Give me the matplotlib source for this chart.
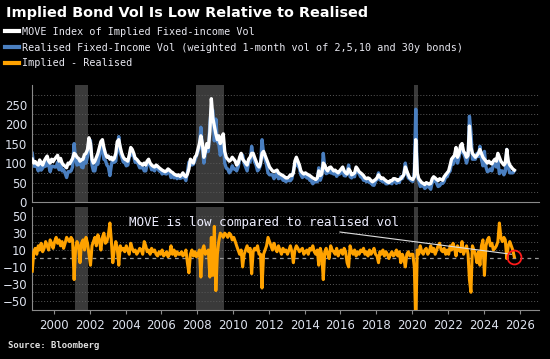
import matplotlib

matplotlib.use("Agg")
import matplotlib.pyplot as plt
import numpy as np
import pandas as pd
from matplotlib.lines import Line2D

# monthly readings, Oct 1998 .. Sep 2025
move = [
    110, 100, 104,                                          # 1998 Q4
    98, 95, 108, 100, 95, 105, 112, 118, 105, 100, 110, 104,  # 1999
    110, 115, 120, 105, 112, 100, 95, 92, 88, 100, 98, 105,   # 2000
    112, 125, 122, 115, 112, 105, 108, 110, 122, 125, 135, 165,  # 2001
    150, 110, 100, 105, 115, 125, 140, 155, 160, 140, 125, 115,  # 2002
    118, 110, 115, 108, 112, 125, 155, 160, 140, 125, 115, 110,  # 2003
    108, 105, 120, 140, 135, 125, 112, 110, 105, 100, 98, 95,    # 2004
    100, 95, 105, 110, 100, 95, 92, 90, 95, 92, 88, 85,          # 2005
    82, 80, 78, 80, 85, 82, 78, 76, 72, 70, 68, 70,              # 2006
    66, 70, 75, 68, 65, 72, 85, 110, 105, 100, 115, 120,         # 2007
    135, 150, 170, 150, 115, 130, 150, 140, 180, 265, 215, 195,  # 2008
    175, 160, 170, 150, 165, 175, 130, 115, 110, 105, 108, 115,  # 2009
    110, 105, 95, 100, 115, 125, 110, 105, 100, 95, 110, 115,    # 2010
    125, 125, 115, 105, 95, 90, 100, 125, 130, 120, 110, 100,    # 2011
    90, 85, 80, 78, 80, 82, 75, 72, 70, 68, 65, 62,              # 2012
    62, 65, 70, 68, 75, 105, 115, 105, 95, 80, 75, 72,           # 2013
    75, 72, 70, 68, 65, 62, 60, 58, 62, 80, 68, 72,              # 2014
    100, 95, 85, 80, 88, 90, 85, 80, 82, 78, 75, 80,             # 2015
    85, 90, 80, 75, 72, 85, 80, 70, 72, 75, 90, 85,              # 2016
    78, 75, 72, 68, 62, 60, 62, 60, 55, 52, 55, 58,              # 2017
    62, 70, 65, 60, 62, 58, 55, 52, 50, 55, 55, 60,              # 2018
    60, 58, 55, 58, 60, 65, 70, 90, 80, 70, 62, 60,              # 2019
    58, 65, 160, 75, 60, 55, 50, 48, 45, 50, 48, 46,             # 2020
    48, 60, 65, 62, 58, 55, 60, 58, 56, 65, 70, 75,              # 2021
    80, 95, 110, 115, 120, 140, 115, 125, 145, 150, 130, 125,    # 2022
    115, 120, 195, 140, 125, 120, 115, 120, 125, 135, 125, 115,  # 2023
    110, 105, 100, 105, 100, 98, 105, 110, 105, 125, 115, 105,   # 2024
    100, 95, 100, 135, 105, 95, 90, 85, 82,                      # 2025
]

implied_minus_realised = [
    -15, 8, 12,
    5, 15, 10, 18, 8, 12, 20, 15, 10, 22, 18, 12,
    20, 25, 18, 22, 15, 20, 12, 18, 25, 22, 20, 25,
    22, -25, 10, 20, 15, -5, 18, 22, 10, 25, 18, 5,
    -8, 15, 20, 25, 15, 28, 22, 10, 25, 30, 18, 20,
    28, 42, 22, -5, 10, 20, 12, -8, 15, 10, 12, 8,
    15, 10, 5, 18, 12, 8, 10, 5, 8, 12, 10, 5,
    20, 15, 8, 10, 5, 12, 8, 10, 5, 3, 8, 5,
    10, 3, 5, 8, 2, 5, 15, 5, 10, 3, 8, 5,
    5, 8, 3, 5, 10, -5, -17, 5, 10, 3, 8, 2,
    5, 10, -22, 10, 15, 5, 8, 10, -22, 25, -20, 38,
    -38, 5, 20, 30, 28, 25, 30, 28, 25, 30, 28, 22,
    25, 20, 15, 10, 5, 10, -10, 5, 10, 15, 8, 12,
    -18, 8, 12, 10, 15, 5, 5, -35, 5, 10, 15, 25,
    20, 15, 10, 18, 12, 8, 15, 10, 5, 12, 8, 10,
    5, 10, 15, 8, -5, 10, 15, 12, 8, 10, 12, 5,
    8, 10, 5, 12, 10, 15, 8, 5, 10, -8, 12, 5,
    -25, 8, 12, 5, 0, 15, 10, 8, 5, 12, 3, 8,
    10, 5, 12, 8, -5, -10, 15, 8, 5, 10, 3, 8,
    5, 10, 8, 12, 5, 8, 3, 10, 5, 8, 12, 5,
    3, -5, 8, 5, 10, 3, 8, 5, 0, 5, 8, 3,
    5, 10, 3, 8, -5, 5, 0, -10, 5, 8, 3, 5,
    5, -10, -78, 10, 5, 15, 8, 5, 10, 12, 5, 8,
    15, 8, 12, 5, 10, 15, 18, 10, 8, 12, 5, 10,
    5, 15, 10, 18, 12, 3, 15, 10, 8, 20, 5, 10,
    15, 5, -25, -40, 15, 10, 5, -5, 8, -8, 15, 22,
    -20, 15, 22, 25, 15, 18, 10, 12, 15, 20, 42, 25,
    20, 25, 22, 0, 15, 20, 15, 10, 2,
]

recessions = [("2001-03-01", "2001-11-30"), ("2007-12-01", "2009-06-30"), ("2020-02-01", "2020-04-30")]
top_ticks = [0, 50, 100, 150, 200, 250]
bottom_ticks = [-50, -30, -10, 10, 30, 50]
year_ticks = list(range(2000, 2027, 2))

dates = pd.date_range("1998-10-01", periods=len(move), freq="MS") + pd.Timedelta(days=14)
move = np.array(move, dtype=float)
spread = np.array(implied_minus_realised, dtype=float)
realised = move - spread

WHITE = "#ffffff"
BLUE = "#4a7fc0"
ORANGE = "#ffa200"
SHADE = "#3a3a3a"
GRID = "#5a5a5a"
TICK = "#dde2ee"
MONO = "DejaVu Sans Mono"

plt.rcParams["font.family"] = ["DejaVu Sans"]
fig = plt.figure(figsize=(5.5, 3.59), dpi=100, facecolor="black")
ax1 = fig.add_axes([0.058, 0.437, 0.922, 0.326], facecolor="black")
ax2 = fig.add_axes([0.058, 0.1365, 0.922, 0.287], facecolor="black", sharex=ax1)

for ax in (ax1, ax2):
    for start, end in recessions:
        ax.axvspan(pd.Timestamp(start), pd.Timestamp(end), color=SHADE, lw=0, zorder=0)
    for side in ("top", "right"):
        ax.spines[side].set_visible(False)
    for side in ("left", "bottom"):
        ax.spines[side].set_color("#8a8a8a")
        ax.spines[side].set_linewidth(0.8)
    ax.tick_params(colors="#8a8a8a", labelcolor=TICK, labelsize=8.5, length=3, width=0.8)

ax1.plot(dates, realised, color=BLUE, lw=2.4, zorder=2)
ax1.plot(dates, move, color=WHITE, lw=2.4, zorder=3)
ax1.set_ylim(0, 300)
ax1.set_yticks(top_ticks)
ax1.set_yticks(np.arange(25, 300, 25), minor=True)
ax1.tick_params(axis="y", which="both", length=0)
ax1.tick_params(axis="x", which="both", length=0, labelbottom=False)
ax1.grid(axis="y", which="both", color=GRID, ls=(0, (1, 2)), lw=0.7)

ax2.plot(dates, spread, color=ORANGE, lw=2.2, zorder=3)
ax2.axhline(0, color="#9a9a9a", ls=(0, (3, 3)), lw=0.9, zorder=2)
ax2.set_ylim(-61, 61)
ax2.set_yticks(bottom_ticks)
ax2.set_yticks([-40, -20, 20, 40], minor=True)
ax2.tick_params(axis="y", which="both", length=0)
ax2.grid(axis="y", which="both", color=GRID, ls=(0, (1, 2)), lw=0.7)
ax2.set_xticks([pd.Timestamp(f"{y}-01-01") for y in year_ticks])
ax2.set_xticklabels([str(y) for y in year_ticks])
ax2.set_xlim(pd.Timestamp("1998-10-08"), pd.Timestamp("2027-02-01"))

ax2.plot([pd.Timestamp("2025-09-10")], [2], marker="o", ms=10, mfc="none", mec="#ff1a1a", mew=1.3, zorder=4)
ax2.annotate("MOVE is low compared to realised vol",
             xy=(pd.Timestamp("2025-07-20"), 5), xytext=(pd.Timestamp("2019-04-10"), 43),
             color="#eeeeff", fontsize=9, family=MONO, ha="right", va="center",
             arrowprops=dict(arrowstyle="-", color="#dddddd", lw=0.8, shrinkA=3, shrinkB=0))

fig.text(0.01, 0.963, "Implied Bond Vol Is Low Relative to Realised", color="white",
         fontsize=10.4, fontweight="bold", va="center", ha="left")
handles = [Line2D([], [], color=c, lw=3) for c in (WHITE, BLUE, ORANGE)]
labels = ["MOVE Index of Implied Fixed-income Vol",
          "Realised Fixed-Income Vol (weighted 1-month vol of 2,5,10 and 30y bonds)",
          "Implied - Realised"]
leg = fig.legend(handles, labels, loc="upper left", bbox_to_anchor=(0.009, 0.925), frameon=False,
                 prop={"family": MONO, "size": 7.3}, handlelength=1.4, handletextpad=0.3,
                 labelspacing=0.55, borderaxespad=0, borderpad=0)
for t in leg.get_texts():
    t.set_color("#e8e8f0")
fig.text(0.014, 0.037, "Source: Bloomberg", color="#e0e0e0", fontsize=6.5,
         fontweight="bold", family=MONO, va="center", ha="left")

fig.savefig("out.png", dpi=100, facecolor="black")
